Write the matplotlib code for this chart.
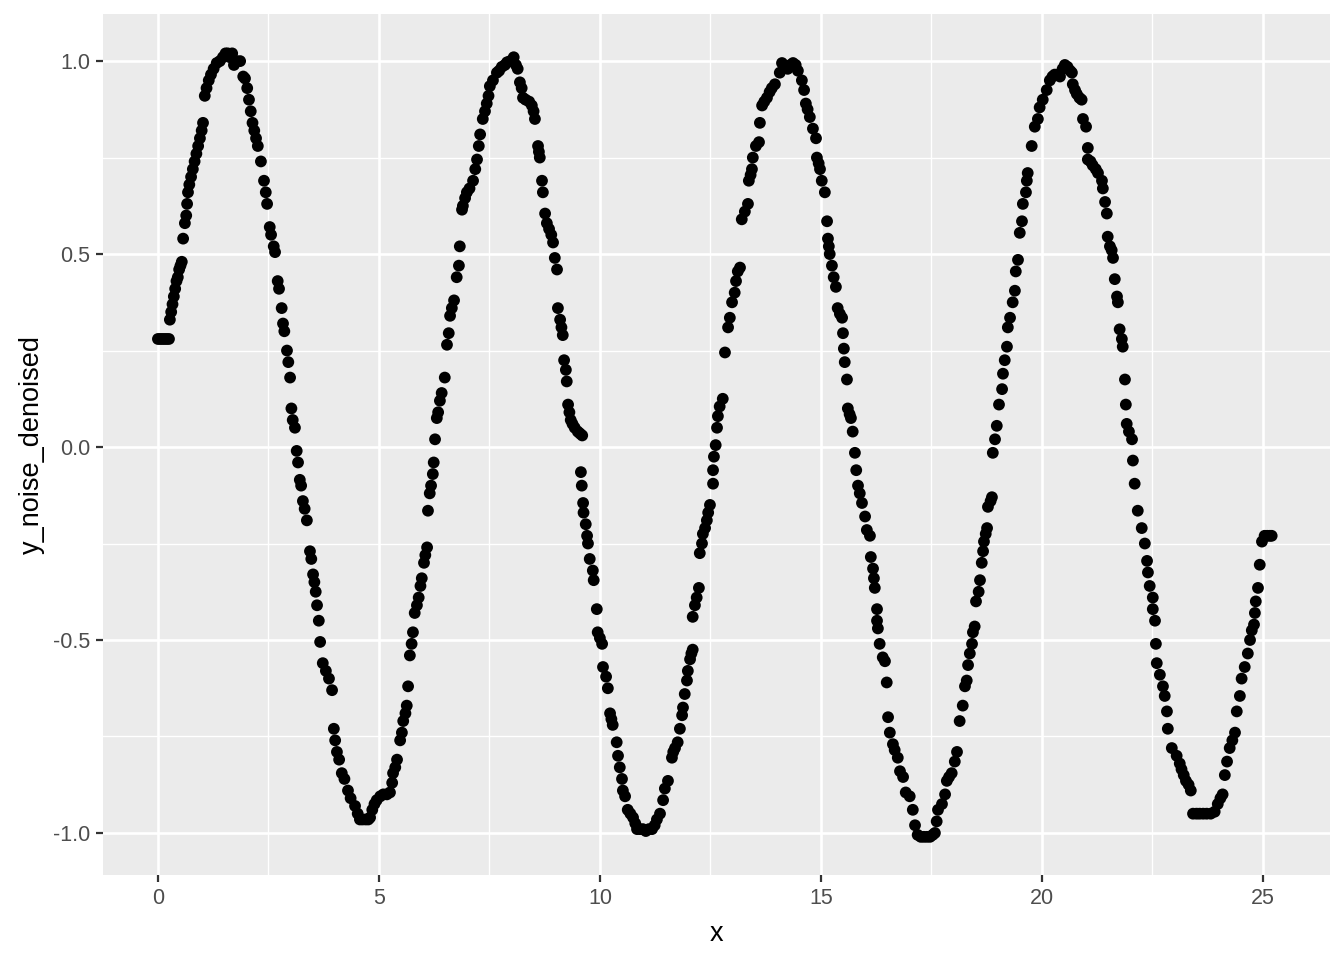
import numpy as np
from matplotlib import pyplot as plt

plt.rcParams['font.family'] = ['Liberation Sans', 'DejaVu Sans']
plt.rcParams['axes.unicode_minus'] = False

####data as (x, y_noise_denoised)
start_flat = [(0.00, 0.28), (0.05, 0.28), (0.10, 0.28), (0.15, 0.28), (0.20, 0.28), (0.25, 0.28)]

rise_1 = [(0.27, 0.33), (0.30, 0.35), (0.33, 0.37), (0.36, 0.39), (0.39, 0.41), (0.42, 0.43), (0.45, 0.44),
          (0.48, 0.46), (0.51, 0.47), (0.54, 0.48), (0.57, 0.54), (0.61, 0.58), (0.64, 0.60), (0.66, 0.63),
          (0.68, 0.66), (0.71, 0.68), (0.75, 0.70), (0.79, 0.72), (0.83, 0.74), (0.87, 0.76), (0.91, 0.78),
          (0.95, 0.80), (0.99, 0.82), (1.02, 0.84), (1.06, 0.91), (1.10, 0.93), (1.15, 0.95), (1.20, 0.965),
          (1.26, 0.98), (1.33, 0.995), (1.40, 1.00), (1.47, 1.01), (1.53, 1.02), (1.58, 1.02), (1.63, 1.01),
          (1.68, 1.02), (1.72, 0.99), (1.78, 1.00), (1.86, 1.00)]

fall_1 = [(1.93, 0.96), (1.97, 0.955), (2.02, 0.93), (2.06, 0.90), (2.10, 0.87), (2.14, 0.84), (2.18, 0.82),
          (2.22, 0.80), (2.26, 0.78), (2.33, 0.74), (2.40, 0.69), (2.44, 0.66), (2.47, 0.63), (2.53, 0.57),
          (2.56, 0.55), (2.62, 0.52), (2.65, 0.505), (2.71, 0.43), (2.74, 0.41), (2.80, 0.36), (2.83, 0.32),
          (2.86, 0.30), (2.92, 0.25), (2.95, 0.22), (2.99, 0.18), (3.02, 0.10), (3.05, 0.07), (3.10, 0.05),
          (3.14, -0.01), (3.17, -0.04), (3.21, -0.085), (3.24, -0.10), (3.28, -0.14), (3.32, -0.16),
          (3.37, -0.19), (3.44, -0.27), (3.47, -0.29), (3.51, -0.33), (3.54, -0.35), (3.57, -0.375),
          (3.60, -0.41), (3.64, -0.45), (3.67, -0.505), (3.73, -0.56), (3.80, -0.58), (3.87, -0.60),
          (3.94, -0.63), (3.98, -0.73), (4.01, -0.76), (4.05, -0.79), (4.10, -0.81), (4.16, -0.845),
          (4.22, -0.86), (4.30, -0.89), (4.36, -0.91), (4.46, -0.93), (4.52, -0.95), (4.57, -0.965),
          (4.63, -0.965), (4.70, -0.965), (4.76, -0.965)]

rise_2 = [(4.80, -0.96), (4.85, -0.94), (4.90, -0.925), (4.95, -0.915), (5.03, -0.905), (5.10, -0.90),
          (5.18, -0.90), (5.25, -0.895), (5.30, -0.87), (5.32, -0.845), (5.37, -0.83), (5.41, -0.81),
          (5.48, -0.76), (5.52, -0.74), (5.55, -0.71), (5.60, -0.69), (5.63, -0.67), (5.66, -0.62),
          (5.70, -0.54), (5.74, -0.51), (5.77, -0.48), (5.81, -0.43), (5.86, -0.41), (5.90, -0.39),
          (5.94, -0.36), (5.97, -0.34), (6.02, -0.30), (6.05, -0.28), (6.09, -0.26), (6.11, -0.165),
          (6.15, -0.12), (6.18, -0.10), (6.22, -0.07), (6.24, -0.04), (6.27, 0.02), (6.31, 0.075),
          (6.34, 0.09), (6.38, 0.12), (6.42, 0.14), (6.49, 0.18), (6.54, 0.265), (6.58, 0.295), (6.61, 0.34),
          (6.65, 0.36), (6.70, 0.38), (6.76, 0.44), (6.81, 0.47), (6.83, 0.52), (6.88, 0.615), (6.90, 0.625),
          (6.95, 0.645), (6.99, 0.66), (7.05, 0.67), (7.13, 0.69), (7.18, 0.72), (7.22, 0.745), (7.26, 0.78),
          (7.29, 0.81), (7.35, 0.85), (7.40, 0.87), (7.44, 0.89), (7.48, 0.91), (7.51, 0.935), (7.58, 0.95),
          (7.67, 0.97), (7.72, 0.975), (7.78, 0.985), (7.85, 0.99), (7.90, 0.997), (7.97, 1.00), (8.05, 1.01)]

fall_2 = [(8.10, 0.99), (8.14, 0.98), (8.19, 0.945), (8.23, 0.93), (8.26, 0.905), (8.32, 0.90), (8.40, 0.895),
          (8.46, 0.885), (8.50, 0.87), (8.53, 0.85), (8.60, 0.78), (8.62, 0.765), (8.64, 0.75), (8.69, 0.69),
          (8.71, 0.66), (8.76, 0.605), (8.80, 0.58), (8.85, 0.565), (8.90, 0.55), (8.94, 0.53), (8.98, 0.49),
          (9.03, 0.46), (9.05, 0.36), (9.10, 0.33), (9.13, 0.31), (9.16, 0.29), (9.19, 0.225), (9.23, 0.20),
          (9.25, 0.17), (9.28, 0.11), (9.31, 0.09), (9.34, 0.07), (9.38, 0.06), (9.43, 0.05), (9.50, 0.04),
          (9.55, 0.035), (9.60, 0.03), (9.57, -0.065), (9.59, -0.10), (9.62, -0.145), (9.63, -0.17),
          (9.68, -0.20), (9.71, -0.23), (9.73, -0.25), (9.77, -0.29), (9.84, -0.32), (9.86, -0.345),
          (9.93, -0.42), (9.95, -0.48), (10.00, -0.495), (10.05, -0.51), (10.07, -0.57), (10.14, -0.595),
          (10.18, -0.625), (10.23, -0.69), (10.26, -0.705), (10.29, -0.72), (10.38, -0.765), (10.41, -0.80),
          (10.45, -0.83), (10.50, -0.86), (10.52, -0.89), (10.57, -0.905), (10.63, -0.94), (10.69, -0.95),
          (10.75, -0.96), (10.80, -0.975), (10.84, -0.99), (10.90, -0.99), (10.97, -0.99), (11.04, -0.995),
          (11.11, -0.99), (11.18, -0.99)]

rise_3 = [(11.24, -0.98), (11.29, -0.965), (11.36, -0.95), (11.43, -0.915), (11.47, -0.885), (11.54, -0.865),
          (11.63, -0.805), (11.66, -0.79), (11.70, -0.78), (11.76, -0.765), (11.81, -0.73), (11.86, -0.695),
          (11.88, -0.675), (11.92, -0.64), (11.97, -0.605), (11.99, -0.58), (12.04, -0.55), (12.07, -0.535),
          (12.10, -0.525), (12.10, -0.44), (12.15, -0.41), (12.19, -0.39), (12.24, -0.365), (12.26, -0.275),
          (12.31, -0.25), (12.33, -0.225), (12.38, -0.21), (12.42, -0.19), (12.45, -0.17), (12.49, -0.15),
          (12.56, -0.095), (12.56, -0.06), (12.58, -0.025), (12.62, 0.005), (12.65, 0.05), (12.67, 0.08),
          (12.71, 0.105), (12.78, 0.125), (12.83, 0.245), (12.90, 0.31), (12.94, 0.335), (12.99, 0.375),
          (13.05, 0.40), (13.08, 0.43), (13.12, 0.455), (13.17, 0.465), (13.21, 0.59), (13.28, 0.61),
          (13.35, 0.63), (13.37, 0.69), (13.41, 0.705), (13.44, 0.72), (13.46, 0.75), (13.53, 0.78),
          (13.60, 0.79), (13.62, 0.84), (13.67, 0.885), (13.72, 0.895), (13.78, 0.905), (13.84, 0.92),
          (13.89, 0.93), (13.96, 0.94), (14.07, 0.97), (14.12, 0.995), (14.18, 0.985), (14.25, 0.98),
          (14.31, 0.99), (14.37, 0.995)]

fall_3 = [(14.43, 0.99), (14.48, 0.975), (14.57, 0.95), (14.62, 0.925), (14.66, 0.89), (14.70, 0.875),
          (14.75, 0.855), (14.82, 0.825), (14.89, 0.80), (14.91, 0.75), (14.95, 0.735), (14.98, 0.72),
          (15.02, 0.69), (15.09, 0.66), (15.14, 0.585), (15.16, 0.54), (15.18, 0.52), (15.20, 0.50),
          (15.25, 0.47), (15.29, 0.44), (15.34, 0.415), (15.38, 0.36), (15.43, 0.345), (15.48, 0.335),
          (15.50, 0.295), (15.52, 0.255), (15.54, 0.22), (15.59, 0.175), (15.61, 0.10), (15.65, 0.085),
          (15.68, 0.075), (15.72, 0.04), (15.77, -0.015), (15.80, -0.06), (15.84, -0.10), (15.88, -0.12),
          (15.93, -0.145), (16.00, -0.18), (16.04, -0.215), (16.11, -0.23), (16.13, -0.285), (16.18, -0.315),
          (16.20, -0.34), (16.22, -0.365), (16.27, -0.42), (16.27, -0.45), (16.29, -0.47), (16.33, -0.51),
          (16.40, -0.545), (16.45, -0.555), (16.49, -0.61), (16.52, -0.70), (16.56, -0.74), (16.63, -0.77),
          (16.67, -0.785), (16.74, -0.805), (16.79, -0.84), (16.86, -0.855), (16.92, -0.895), (17.01, -0.905),
          (17.08, -0.94), (17.13, -0.98), (17.19, -1.005), (17.26, -1.01), (17.33, -1.01), (17.40, -1.01),
          (17.47, -1.01), (17.53, -1.005)]

rise_4 = [(17.58, -1.00), (17.62, -0.97), (17.65, -0.94), (17.74, -0.925), (17.81, -0.90), (17.85, -0.865),
          (17.90, -0.855), (17.96, -0.845), (18.03, -0.815), (18.08, -0.79), (18.14, -0.71), (18.21, -0.67),
          (18.26, -0.62), (18.30, -0.605), (18.33, -0.565), (18.37, -0.535), (18.42, -0.51), (18.44, -0.48),
          (18.48, -0.465), (18.51, -0.40), (18.57, -0.375), (18.60, -0.345), (18.64, -0.30), (18.67, -0.27),
          (18.69, -0.245), (18.73, -0.225), (18.76, -0.21), (18.78, -0.155), (18.84, -0.14), (18.87, -0.13),
          (18.89, -0.015), (18.94, 0.02), (18.98, 0.055), (19.03, 0.11), (19.10, 0.15), (19.12, 0.19),
          (19.16, 0.225), (19.21, 0.26), (19.23, 0.31), (19.28, 0.335), (19.34, 0.375), (19.39, 0.405),
          (19.41, 0.455), (19.46, 0.485), (19.50, 0.555), (19.55, 0.585), (19.57, 0.63), (19.64, 0.66),
          (19.66, 0.69), (19.68, 0.71), (19.77, 0.78), (19.84, 0.83), (19.91, 0.85), (19.95, 0.88),
          (20.02, 0.90), (20.11, 0.925), (20.18, 0.95), (20.24, 0.96), (20.29, 0.965), (20.35, 0.965),
          (20.41, 0.96), (20.47, 0.98), (20.52, 0.99), (20.58, 0.985)]

fall_4 = [(20.64, 0.975), (20.68, 0.97), (20.70, 0.94), (20.75, 0.925), (20.79, 0.915), (20.85, 0.905),
          (20.90, 0.90), (20.93, 0.85), (21.00, 0.83), (21.04, 0.775), (21.04, 0.745), (21.10, 0.74),
          (21.15, 0.73), (21.22, 0.72), (21.27, 0.71), (21.36, 0.69), (21.38, 0.67), (21.43, 0.635),
          (21.47, 0.605), (21.49, 0.545), (21.54, 0.52), (21.58, 0.51), (21.61, 0.49), (21.65, 0.435),
          (21.70, 0.39), (21.72, 0.375), (21.76, 0.305), (21.81, 0.28), (21.83, 0.26), (21.88, 0.175),
          (21.90, 0.11), (21.92, 0.06), (21.97, 0.04), (22.04, 0.02), (22.06, -0.035), (22.10, -0.095),
          (22.17, -0.165), (22.26, -0.21), (22.33, -0.25), (22.38, -0.295), (22.40, -0.325), (22.44, -0.36),
          (22.51, -0.39), (22.51, -0.42), (22.56, -0.45), (22.58, -0.51), (22.60, -0.56), (22.67, -0.59),
          (22.74, -0.62), (22.78, -0.645), (22.83, -0.685), (22.85, -0.73), (22.94, -0.78), (23.05, -0.80),
          (23.12, -0.82), (23.16, -0.835), (23.21, -0.85), (23.26, -0.865), (23.32, -0.875), (23.37, -0.89),
          (23.42, -0.95), (23.50, -0.95), (23.57, -0.95), (23.65, -0.95), (23.73, -0.95), (23.82, -0.95)]

rise_5 = [(23.91, -0.945), (23.98, -0.925), (24.04, -0.91), (24.09, -0.90), (24.14, -0.85), (24.19, -0.815),
          (24.25, -0.78), (24.31, -0.76), (24.37, -0.74), (24.41, -0.685), (24.48, -0.645), (24.52, -0.60),
          (24.59, -0.57), (24.66, -0.535), (24.71, -0.50), (24.75, -0.475), (24.80, -0.46), (24.82, -0.43),
          (24.84, -0.40), (24.89, -0.365), (24.93, -0.305), (24.98, -0.245)]

end_flat = [(25.04, -0.23), (25.10, -0.23), (25.16, -0.23), (25.20, -0.23)]

segments = [start_flat, rise_1, fall_1, rise_2, fall_2, rise_3, fall_3, rise_4, fall_4, rise_5, end_flat]
pts = np.array([p for seg in segments for p in seg])
x = pts[:, 0]
y_noise_denoised = pts[:, 1]

x_ticks = [0, 5, 10, 15, 20, 25]
y_ticks = [-1.0, -0.5, 0.0, 0.5, 1.0]
y_tick_labels = ['-1.0', '-0.5', '0.0', '0.5', '1.0']

####figure, ggplot grey theme
fig = plt.figure(figsize=(13.44, 9.6), dpi=100)
ax = fig.add_axes([0.0766, 0.0885, 0.913, 0.8969])
ax.set_facecolor('#EBEBEB')
for s in ax.spines.values():
    s.set_visible(False)

ax.set_xlim(-1.244, 26.52)
ax.set_ylim(-1.109, 1.122)

ax.set_xticks(x_ticks)
ax.set_xticklabels([str(t) for t in x_ticks])
ax.set_yticks(y_ticks)
ax.set_yticklabels(y_tick_labels)
ax.set_xticks([2.5, 7.5, 12.5, 17.5, 22.5], minor=True)
ax.set_yticks([-0.75, -0.25, 0.25, 0.75], minor=True)

ax.grid(which='major', color='white', linewidth=1.9)
ax.grid(which='minor', color='white', linewidth=1.0)
ax.set_axisbelow(True)

ax.tick_params(which='major', length=5, width=1.6, color='#333333',
               labelsize=15.5, labelcolor='#4D4D4D', pad=4)
ax.tick_params(which='minor', length=0)

ax.scatter(x, y_noise_denoised, s=72, color='black', edgecolors='none', zorder=3)

ax.set_xlabel('x', fontsize=19.5, color='black', labelpad=9)
ax.set_ylabel('y_noise_denoised', fontsize=19.5, color='black', labelpad=6)

plt.savefig('out.png', dpi=100)
